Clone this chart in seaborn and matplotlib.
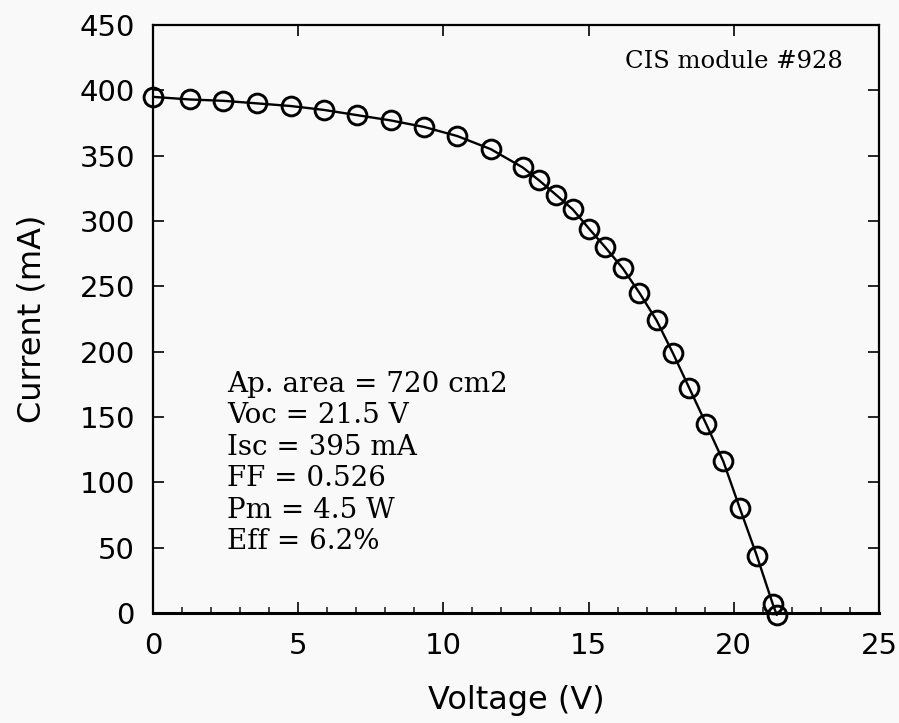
import matplotlib
matplotlib.use("Agg")
import matplotlib.pyplot as plt
import seaborn as sns
import pandas as pd
from matplotlib.ticker import MultipleLocator

voltage = [0.0, 1.27, 2.42, 3.59, 4.74, 5.89, 7.03, 8.18, 9.33, 10.48, 11.63,
           12.73, 13.30, 13.88, 14.45, 15.02, 15.57, 16.17, 16.75, 17.34, 17.90,
           18.47, 19.04, 19.64, 20.21, 20.79, 21.34, 21.48]
current = [395, 393, 392, 390, 388, 385, 381, 377, 372, 365, 355,
           341, 331, 320, 309, 294, 280, 264, 245, 224, 199,
           172, 145, 116, 80, 44, 7, -1.5]
x_ticks = [0, 5, 10, 15, 20, 25]
y_ticks = [0, 50, 100, 150, 200, 250, 300, 350, 400, 450]
info_lines = ["Ap. area = 720 cm2", "Voc = 21.5 V", "Isc = 395 mA",
              "FF = 0.526", "Pm = 4.5 W", "Eff = 6.2%"]
title_text = "CIS module #928"

sns.set_style("ticks")
plt.rcParams['font.family'] = ['DejaVu Sans']

df = pd.DataFrame({"Voltage": voltage, "Current": current})

fig = plt.figure(figsize=(8.99, 7.23), dpi=100)
bg = "#f9f9f9"
fig.patch.set_facecolor(bg)
ax = fig.add_axes([153/899, 1 - 613/723, (879-153)/899, (613-25)/723])
ax.set_facecolor(bg)

sns.lineplot(data=df, x="Voltage", y="Current", ax=ax, sort=False,
             color="black", linewidth=1.7, marker="o", markersize=13.5,
             markerfacecolor="none", markeredgecolor="black",
             markeredgewidth=2.1, clip_on=False, zorder=5)

ax.set_xlim(0, 25)
ax.set_ylim(0, 450)
ax.set_xticks(x_ticks)
ax.set_yticks(y_ticks)
ax.xaxis.set_minor_locator(MultipleLocator(1))
ax.tick_params(which="major", direction="in", length=8, width=1.4,
               top=True, right=True, labelsize=21, labelcolor="black")
ax.tick_params(axis="x", which="major", pad=14)
ax.tick_params(axis="y", which="major", pad=13)
ax.tick_params(which="minor", direction="in", length=4, width=1.2,
               bottom=True, top=False, left=False, right=False)
for s in ax.spines.values():
    s.set_linewidth(1.6)
    s.set_color("black")
ax.spines["bottom"].set_linewidth(2.2)

ax.set_xlabel("Voltage (V)", fontsize=23, color="black")
ax.set_ylabel("Current (mA)", fontsize=23, color="black")
ax.xaxis.set_label_coords(0.5, -0.122)
ax.yaxis.set_label_coords(-0.145, 0.5)

ax.text(0.950, 0.927, title_text, transform=ax.transAxes, ha="right",
        va="baseline", fontsize=17.5, family="DejaVu Serif", color="black")
for i, line in enumerate(info_lines):
    ax.text(0.102, 0.376 - i * 0.0535, line, transform=ax.transAxes,
            ha="left", va="baseline", fontsize=20, family="DejaVu Serif",
            color="black")

fig.savefig("out.png", dpi=100, facecolor=bg)
